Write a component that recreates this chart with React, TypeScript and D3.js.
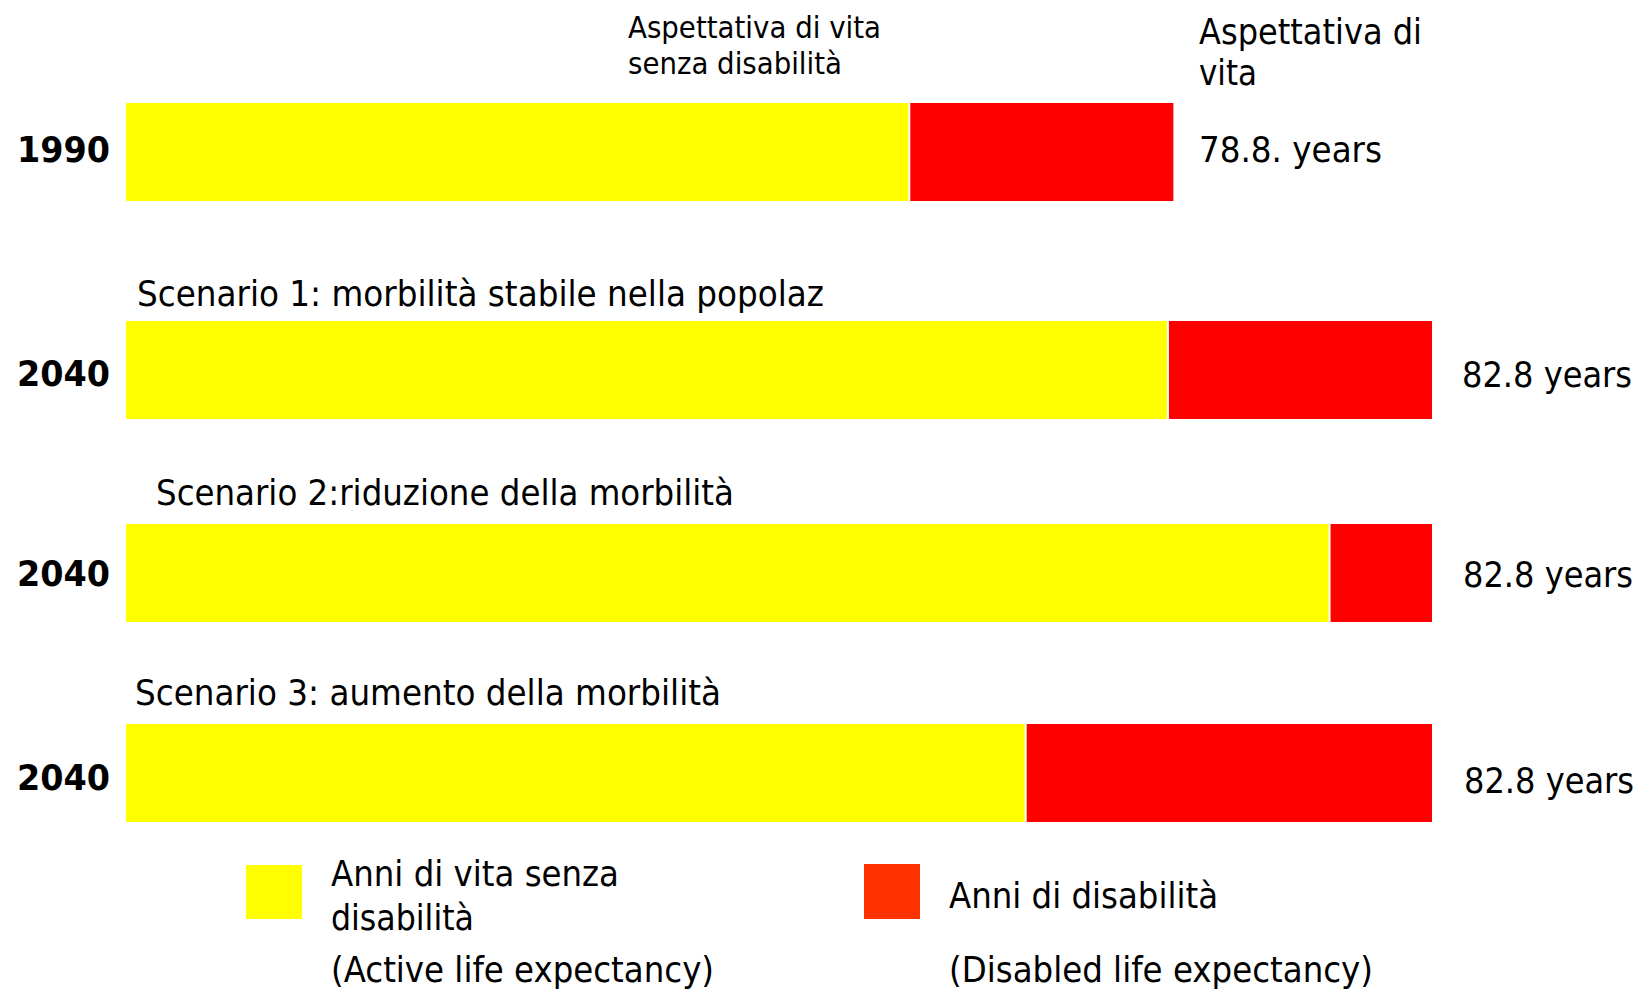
import React from "react";
import * as d3 from "d3";

// Life expectancy with and without disability, 1990 vs three 2040 scenarios
const rowYears = ["1990", "2040", "2040", "2040"];
const scenarioTitles = [
  "",
  "Scenario 1: morbilità stabile nella popolaz",
  "Scenario 2:riduzione della morbilità",
  "Scenario 3: aumento della morbilità",
];
const activeYears = [74.7, 78.7, 81.2, 76.5];
const totalYears = [78.8, 82.8, 82.8, 82.8];
const totalLabels = ["78.8. years", "82.8 years", "82.8 years", "82.8 years"];
const legendItems = [
  { lines: ["Anni di vita senza", "disabilità"], note: "(Active life expectancy)" },
  { lines: ["Anni di disabilità"], note: "(Disabled life expectancy)" },
];

const W = 1642;
const H = 992;
const FONT = "'DejaVu Sans', Verdana, sans-serif";
const YELLOW = "#FFFF00";
const RED = "#FF0000";
const LEGEND_RED = "#FF3300";

// x axis starts at the origin of the schematic, ends at the longest lifespan
const x = d3.scaleLinear().domain([62.6, 82.8]).range([126, 1432]);

// row placement
const rowTop = [103, 321, 524, 724];
const barH = 98;
const yearBaseline = [162, 386, 586, 790];

const titleLayout = [
  null,
  { x: 137, y: 306, w: 687 },
  { x: 156, y: 505, w: 578 },
  { x: 135, y: 705, w: 586 },
];
// total labels: first one sits under the column header, the rest are right-aligned
const totalLabelLayout = [
  { x: 1199, y: 162, w: 183, anchor: "start" },
  { x: 1632, y: 387, w: 170, anchor: "end" },
  { x: 1633, y: 587, w: 170, anchor: "end" },
  { x: 1634, y: 793, w: 170, anchor: "end" },
];

// horizontally condensed text, like the narrow sans of the original slide
const SQUEEZE = 0.88;

function T(props: {
  x: number;
  y: number;
  w: number;
  size: number;
  bold?: boolean;
  anchor?: string;
  children: string;
}) {
  return (
    <g transform={`translate(${props.x},${props.y}) scale(${SQUEEZE},1)`}>
      <text
        x={0}
        y={0}
        textLength={props.w / SQUEEZE}
        lengthAdjust="spacingAndGlyphs"
        textAnchor={props.anchor || "start"}
        fontFamily={FONT}
        fontSize={props.size}
        fontWeight={props.bold ? "bold" : "normal"}
        fill="#000"
      >
        {props.children}
      </text>
    </g>
  );
}

export default function App() {
  return (
    <div style={{ position: "absolute", left: 0, top: 0 }}>
      <svg width={W} height={H} viewBox={`0 0 ${W} ${H}`} style={{ display: "block", background: "#fff" }}>
        {/* column headers */}
        <T x={628} y={38} w={253} size={30}>Aspettativa di vita</T>
        <T x={628} y={74} w={214} size={30}>senza disabilità</T>
        <T x={1199} y={44} w={223} size={35}>Aspettativa di</T>
        <T x={1199} y={85} w={58} size={35}>vita</T>

        {rowYears.map((yr, i) => {
          const top = rowTop[i];
          const x0 = x.range()[0];
          const xa = x(activeYears[i]);
          const xt = x(totalYears[i]);
          const tl = titleLayout[i];
          const ll = totalLabelLayout[i];
          return (
            <g key={i}>
              {tl && scenarioTitles[i] && (
                <T x={tl.x} y={tl.y} w={tl.w} size={36}>{scenarioTitles[i]}</T>
              )}
              <T x={17} y={yearBaseline[i]} w={93} size={36} bold>{yr}</T>
              <rect x={x0} y={top} width={xa - x0} height={barH} fill={YELLOW} />
              <rect x={xa + 2} y={top} width={xt - xa - 2} height={barH} fill={RED} />
              <T x={ll.x} y={ll.y} w={ll.w} size={36} anchor={ll.anchor}>{totalLabels[i]}</T>
            </g>
          );
        })}

        {/* legend */}
        <rect x={246} y={865} width={56} height={54} fill={YELLOW} />
        <T x={331} y={886} w={288} size={36}>{legendItems[0].lines[0]}</T>
        <T x={331} y={930} w={143} size={36}>{legendItems[0].lines[1]}</T>
        <T x={331} y={982} w={383} size={36}>{legendItems[0].note}</T>

        <rect x={864} y={864} width={56} height={55} fill={LEGEND_RED} />
        <T x={949} y={908} w={269} size={36}>{legendItems[1].lines[0]}</T>
        <T x={949} y={982} w={424} size={36}>{legendItems[1].note}</T>
      </svg>
    </div>
  );
}
